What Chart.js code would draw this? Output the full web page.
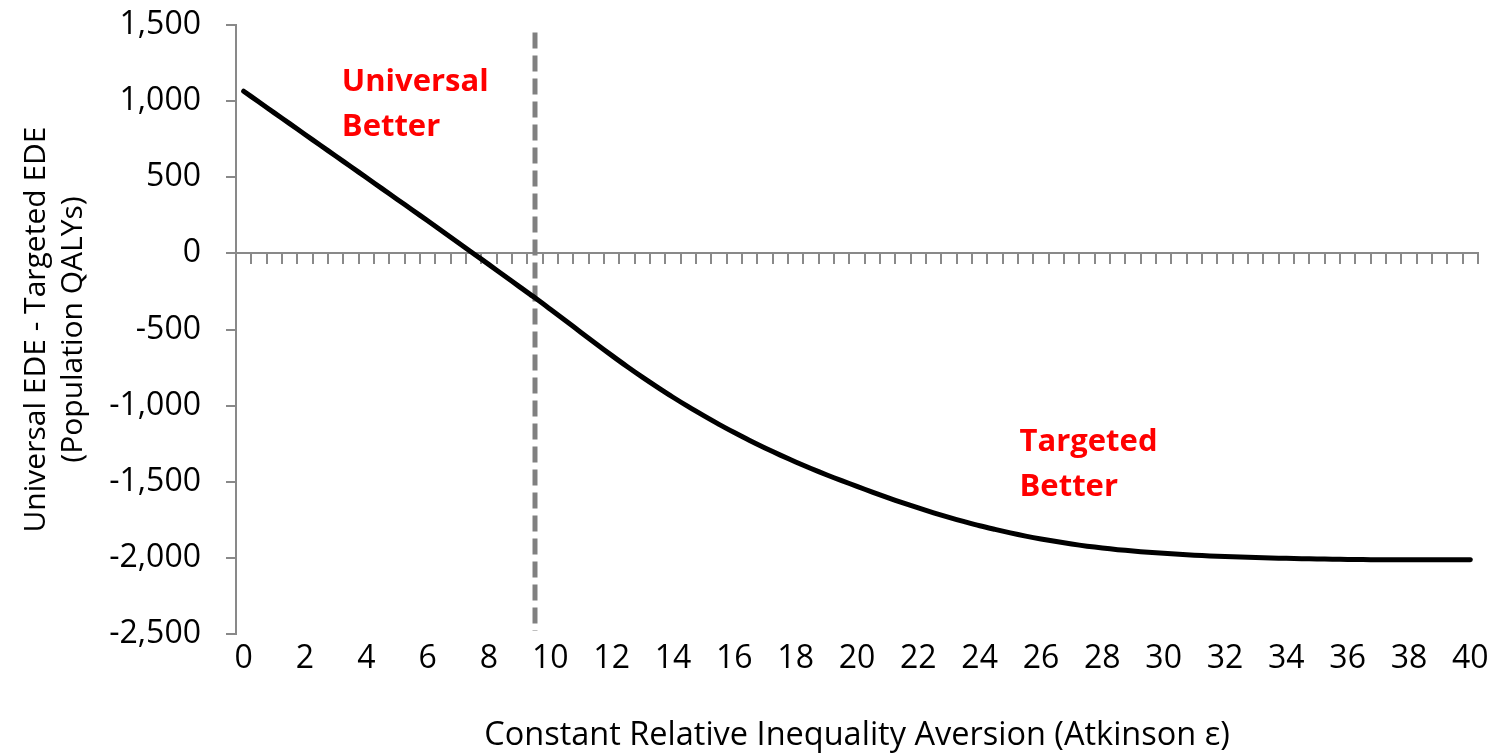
<!DOCTYPE html>
<html>
<head>
<meta charset="utf-8">
<title>Universal vs Targeted EDE</title>
<script src="https://cdn.jsdelivr.net/npm/chart.js@4/dist/chart.umd.min.js"></script>
<style>
  html, body { margin: 0; padding: 0; background: #ffffff; }
  #wrap { width: 1501px; height: 755px; }
</style>
</head>
<body>
<div id="wrap"><canvas id="chart" width="1501" height="755"></canvas></div>
<script>
// Atkinson epsilon values (category axis)
const epsilonValues = [
  '0','0.5','1','1.5','2','2.5','3','3.5','4','4.5',
  '5','5.5','6','6.5','7','7.5','8','8.5','9','9.5',
  '10','10.5','11','11.5','12','12.5','13','13.5','14','14.5',
  '15','15.5','16','16.5','17','17.5','18','18.5','19','19.5',
  '20','20.5','21','21.5','22','22.5','23','23.5','24','24.5',
  '25','25.5','26','26.5','27','27.5','28','28.5','29','29.5',
  '30','30.5','31','31.5','32','32.5','33','33.5','34','34.5',
  '35','35.5','36','36.5','37','37.5','38','38.5','39','39.5',
  '40'
];

// Universal EDE minus Targeted EDE, population QALYs
const edeDifference = [
  1065, 994, 923, 852, 781, 710, 640, 569, 498, 427,
  356, 285, 214, 142, 70, -2, -74, -147, -220, -292,
  -367, -443, -519, -595, -670, -743, -813, -880, -945, -1007,
  -1066, -1123, -1177, -1229, -1278, -1325, -1370, -1413, -1454, -1493,
  -1530, -1568, -1604, -1639, -1672, -1704, -1734, -1762, -1789, -1813,
  -1836, -1857, -1876, -1893, -1909, -1923, -1935, -1946, -1955, -1963,
  -1970, -1976, -1982, -1987, -1991, -1995, -1998, -2001, -2003, -2005,
  -2007, -2009, -2010, -2011, -2012, -2012, -2013, -2013, -2013, -2012,
  -2012
];

// Threshold epsilon where the preferred policy switches
const thresholdEpsilon = '9.5';
const thresholdSpan = [1450, -2480];

// Labelled ticks on the horizontal axis
const xTickLabels = ['0','2','4','6','8','10','12','14','16','18','20',
  '22','24','26','28','30','32','34','36','38','40'];

// Vertical axis range and step
const yMin = -2500;
const yMax = 1500;
const yStep = 500;

const FONT = '"Open Sans", "Liberation Sans", sans-serif';
const AXIS_GREY = '#898989';

// Region labels placed in data coordinates (x as category index)
const regionLabels = [
  { lines: ['Universal', 'Better'], xIndex: 6.4, yValue: 1125 },
  { lines: ['Targeted', 'Better'], xIndex: 50.6, yValue: -1240 }
];

const regionLabelPlugin = {
  id: 'regionLabels',
  afterDatasetsDraw(chart) {
    const { ctx, scales } = chart;
    ctx.save();
    ctx.fillStyle = '#ff0000';
    ctx.font = 'bold 31px ' + FONT;
    ctx.textAlign = 'left';
    ctx.textBaseline = 'middle';
    const lineGap = 45;
    regionLabels.forEach(lbl => {
      const px = scales.x.getPixelForValue(lbl.xIndex);
      const py = scales.y.getPixelForValue(lbl.yValue);
      lbl.lines.forEach((t, i) => ctx.fillText(t, px, py + i * lineGap));
    });
    ctx.restore();
  }
};

const labelSet = new Set(xTickLabels);

new Chart(document.getElementById('chart'), {
  type: 'line',
  data: {
    labels: epsilonValues,
    datasets: [
      {
        label: 'Universal EDE - Targeted EDE',
        data: edeDifference,
        xAxisID: 'x',
        yAxisID: 'y',
        borderColor: '#000000',
        borderWidth: 5,
        borderCapStyle: 'round',
        borderJoinStyle: 'round',
        pointRadius: 0,
        tension: 0.3,
        fill: false,
        order: 1
      },
      {
        label: 'Threshold',
        data: [
          { x: thresholdEpsilon, y: thresholdSpan[0] },
          { x: thresholdEpsilon, y: thresholdSpan[1] }
        ],
        xAxisID: 'x',
        yAxisID: 'y',
        borderColor: '#808080',
        borderWidth: 5,
        borderDash: [16, 7],
        borderCapStyle: 'butt',
        pointRadius: 0,
        tension: 0,
        fill: false,
        order: 2
      }
    ]
  },
  options: {
    responsive: false,
    animation: false,
    devicePixelRatio: 1,
    layout: { padding: { left: 0, right: 23, top: 25, bottom: 0 } },
    plugins: {
      legend: { display: false },
      tooltip: { enabled: false }
    },
    scales: {
      x: {
        type: 'category',
        position: 'bottom',
        offset: true,
        grid: { display: false, drawTicks: false, offset: true },
        border: { display: false },
        ticks: {
          autoSkip: false,
          maxRotation: 0,
          minRotation: 0,
          padding: 6,
          color: '#000000',
          font: { family: FONT, size: 32 },
          callback(value, index) {
            const lbl = epsilonValues[index];
            return labelSet.has(lbl) ? lbl : '';
          }
        },
        title: {
          display: true,
          text: 'Constant Relative Inequality Aversion (Atkinson ε)',
          color: '#000000',
          font: { family: FONT, size: 32.5 },
          padding: { top: 0, bottom: 0 }
        },
        afterFit(scale) { scale.height = 121; }
      },
      xZero: {
        type: 'category',
        axis: 'x',
        labels: epsilonValues,
        position: { y: 0 },
        offset: true,
        grid: {
          display: true,
          offset: true,
          drawOnChartArea: false,
          drawTicks: true,
          tickLength: 10,
          color: AXIS_GREY,
          lineWidth: 2
        },
        border: { display: true, color: AXIS_GREY, width: 2 },
        ticks: { display: false, autoSkip: false }
      },
      y: {
        type: 'linear',
        position: 'left',
        min: yMin,
        max: yMax,
        grid: {
          display: true,
          drawOnChartArea: false,
          drawTicks: true,
          tickLength: 10,
          color: AXIS_GREY,
          lineWidth: 2
        },
        border: { display: true, color: AXIS_GREY, width: 2 },
        ticks: {
          stepSize: yStep,
          padding: 25,
          color: '#000000',
          font: { family: FONT, size: 32 },
          callback(v) { return Number(v).toLocaleString('en-US'); }
        },
        title: {
          display: true,
          text: ['Universal EDE - Targeted EDE', '(Population QALYs)'],
          color: '#000000',
          font: { family: FONT, size: 30, lineHeight: 1.23 },
          padding: { top: 18, bottom: 0 }
        },
        afterFit(scale) {
          scale.width = 236;
          // the outer layout padding already leaves room for the end labels
          scale.paddingTop = 0;
          scale.paddingBottom = 0;
        }
      }
    }
  },
  plugins: [regionLabelPlugin]
});
</script>
</body>
</html>
